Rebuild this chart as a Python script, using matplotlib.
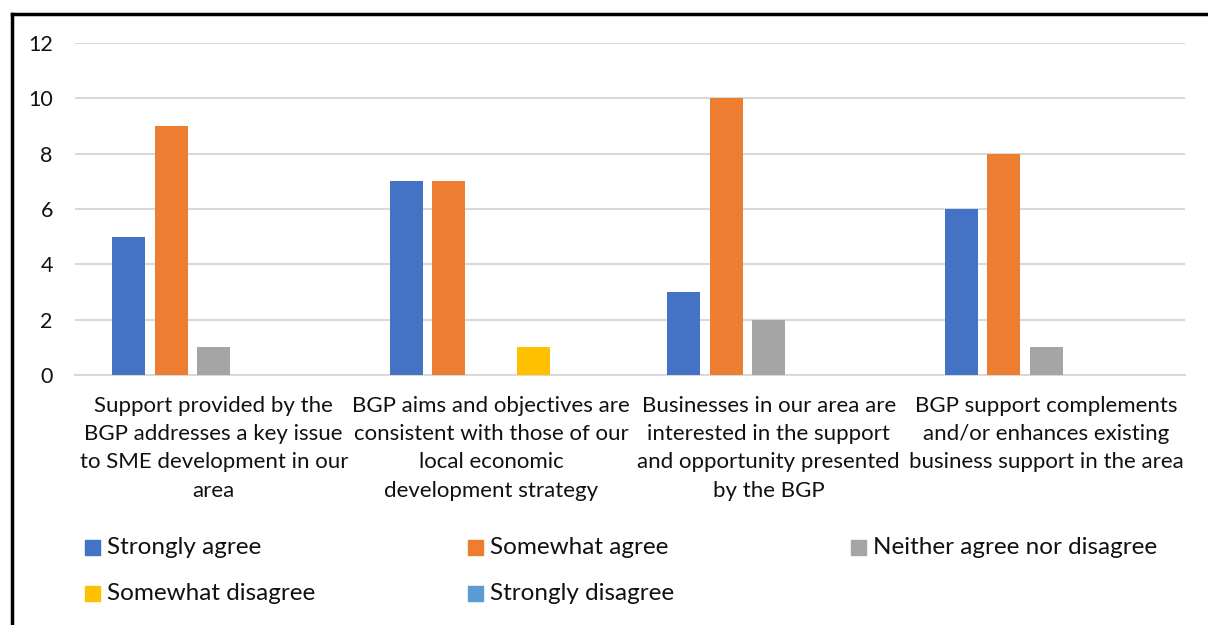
import numpy as np
import matplotlib
matplotlib.use("Agg")
import matplotlib.pyplot as plt
from matplotlib.patches import Rectangle
from matplotlib.lines import Line2D

plt.rcParams["font.family"] = ["Lato", "DejaVu Sans"]

# Data
categories = [
    "Support provided by the\nBGP addresses a key issue\nto SME development in our\narea",
    "BGP aims and objectives are\nconsistent with those of our\nlocal economic\ndevelopment strategy",
    "Businesses in our area are\ninterested in the support\nand opportunity presented\nby the BGP",
    "BGP support complements\nand/or enhances existing\nbusiness support in the area",
]
series_names = ["Strongly agree", "Somewhat agree", "Neither agree nor disagree",
                "Somewhat disagree", "Strongly disagree"]
strongly_agree = [5, 7, 3, 6]
somewhat_agree = [9, 7, 10, 8]
neither = [1, 0, 2, 1]
somewhat_disagree = [0, 1, 0, 0]
strongly_disagree = [0, 0, 0, 0]
values = [strongly_agree, somewhat_agree, neither, somewhat_disagree, strongly_disagree]
colors = ["#4472C4", "#ED7D31", "#A5A5A5", "#FFC000", "#5B9BD5"]

W, H = 1208, 625
fig = plt.figure(figsize=(W / 100, H / 100), dpi=100)
ax = fig.add_axes([75 / W, 250 / H, 1110 / W, 332 / H])

x = np.arange(len(categories))
width = 0.12
step = 0.153
for i, (name, vals, c) in enumerate(zip(series_names, values, colors)):
    ax.bar(x + (i - 2) * step, vals, width, color=c, label=name, zorder=3)

ax.set_xlim(-0.5, len(categories) - 0.5)
ax.set_ylim(0, 12)
ax.set_yticks(range(0, 13, 2))
ax.yaxis.grid(True, color="#D9D9D9", linewidth=1.5, zorder=0)
for s in ["top", "right", "left"]:
    ax.spines[s].set_visible(False)
ax.spines["bottom"].set_color("#D9D9D9")
ax.spines["bottom"].set_linewidth(1.5)
ax.tick_params(axis="y", length=0, labelsize=15.5, pad=16, labelcolor="#111111")
ax.tick_params(axis="x", length=0, pad=15)
ax.set_xticks(x)
ax.set_xticklabels(categories, fontsize=16, linespacing=1.52, color="#111111")

# Legend entries placed like the original grid
leg_pos = [(85, 548), (468, 548), (851, 548), (85, 594), (468, 594)]
for (lx, ly), name, c in zip(leg_pos, series_names, colors):
    fig.patches.append(Rectangle((lx / W, 1 - (ly + 7) / H), 15 / W, 15 / H,
                                 transform=fig.transFigure, color=c))
    fig.text((lx + 22) / W, 1 - ly / H, name, fontsize=17.5, va="center",
             ha="left", color="#111111")

# Outer frame (left and top edges)
fig.add_artist(Line2D([12 / W, 12 / W], [0, 1 - 14 / H], color="black",
                      linewidth=2.5, transform=fig.transFigure))
fig.add_artist(Line2D([12 / W, 1], [1 - 14 / H, 1 - 14 / H], color="black",
                      linewidth=2.5, transform=fig.transFigure))

fig.savefig("out.png", dpi=100)
